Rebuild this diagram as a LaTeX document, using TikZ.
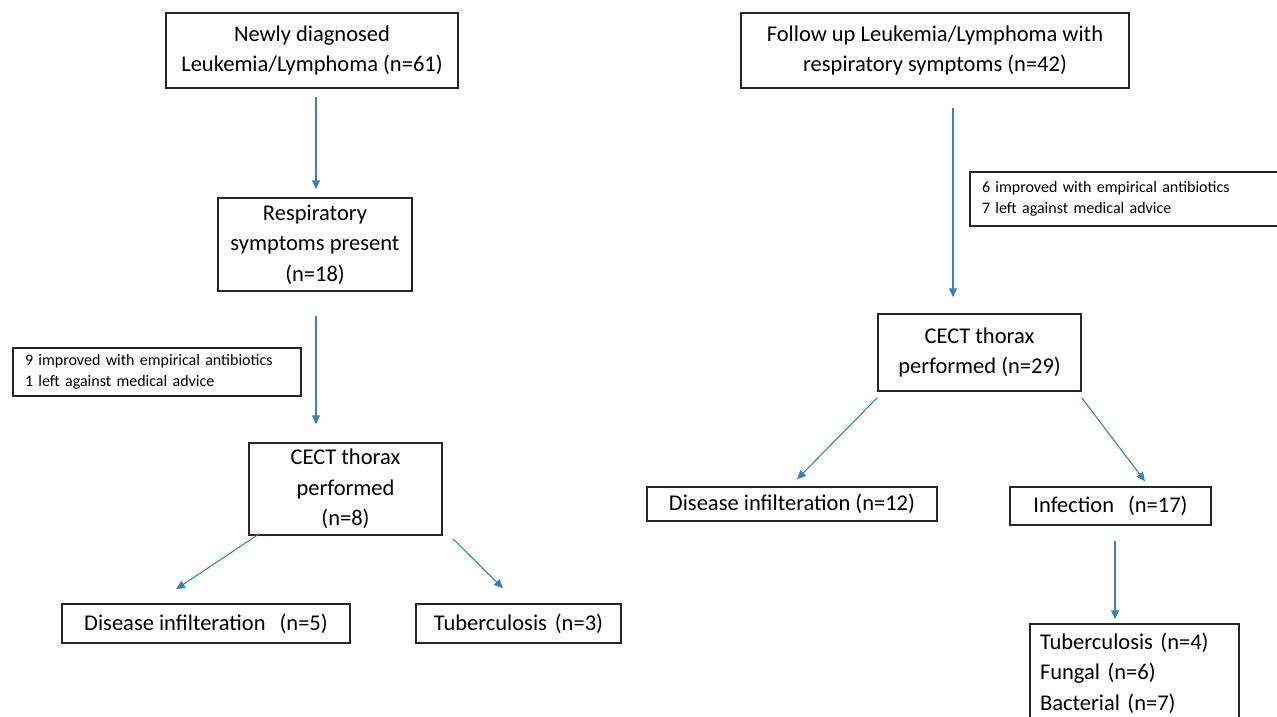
\documentclass[tikz,border=0pt]{standalone}
\usepackage{fontspec}
\setmainfont{Carlito}
\usepackage{tikz}
\usetikzlibrary{arrows.meta,positioning}
\usepackage{xcolor}
\definecolor{arrowblue}{RGB}{62,128,182}

\begin{document}
\begin{tikzpicture}[x=1pt, y=-1pt,
    box/.style={rectangle, draw=black!85, line width=1.4pt, inner sep=0pt, align=center,
        font=\fontsize{22.5}{30.5}\selectfont},
    note/.style={rectangle, draw=black!85, line width=1.3pt, inner ysep=0pt, inner xsep=12pt,
        align=left, font=\fontsize{16}{21.5}\selectfont},
    flow/.style={draw=arrowblue, line width=1.1pt, -{Triangle[length=9pt, width=8pt]}}]
    \useasboundingbox[fill=white] (0,0) rectangle (1277,717);

    % Left branch
    \node[box, minimum width=292pt, minimum height=75pt] (newL) at (312,50.5) {Newly diagnosed\\Leukemia/Lymphoma (n=61)};
    \node[box, minimum width=194pt, minimum height=93pt] (respL) at (315,244.5) {Respiratory\\symptoms present\\(n=18)};
    \node[note, text width=264pt, minimum height=48pt] (noteL) at (157,372) {9 improved with empirical antibiotics\\1 left against medical advice};
    \node[box, minimum width=193pt, minimum height=92pt] (cectL) at (345.5,489) {CECT thorax\\performed\\(n=8)};
    \node[box, minimum width=288pt, minimum height=39pt] (disL) at (206,623.5) {Disease infilteration\hspace{14pt}(n=5)};
    \node[box, minimum width=205pt, minimum height=39pt] (tbL) at (518.5,623.5) {Tuberculosis\hspace{8pt}(n=3)};

    % Right branch
    \node[box, minimum width=388pt, minimum height=75pt] (followR) at (935,50.5) {Follow up Leukemia/Lymphoma with\\respiratory symptoms (n=42)};
    \node[note, text width=296pt, minimum height=54pt] (noteR) at (1130,199) {6 improved with empirical antibiotics\\7 left against medical advice};
    \node[box, minimum width=203pt, minimum height=77pt] (cectR) at (979.5,352.5) {CECT thorax\\performed (n=29)};
    \node[box, minimum width=290pt, minimum height=34pt] (disR) at (792,504) {Disease infilteration (n=12)};
    \node[box, minimum width=201pt, minimum height=38pt] (infR) at (1110.5,506) {Infection\hspace{14pt}(n=17)};
    \node[box, minimum width=209pt, minimum height=98pt, align=left, text width=189pt] (listR) at (1134.5,673) {Tuberculosis (n=4)\\Fungal (n=6)\\Bacterial (n=7)};

    % Arrows
    \draw[flow, shorten <=8pt, shorten >=8pt] ([xshift=4pt]newL.south) -- ([xshift=1pt]respL.north);
    \draw[flow, shorten <=24pt, shorten >=18pt] ([xshift=1pt]respL.south) -- ([xshift=-29.5pt]cectL.north);
    \draw[flow] ([xshift=11pt, yshift=2pt]cectL.south west) -- ([xshift=-30pt, yshift=14pt]disL.north);
    \draw[flow] ([xshift=10pt, yshift=-3pt]cectL.south east) -- ([xshift=-15.5pt, yshift=15pt]tbL.north);
    \draw[flow, shorten <=19pt, shorten >=16pt] ([xshift=18pt]followR.south) -- ([xshift=-26.5pt]cectR.north);
    \draw[flow] ([yshift=-6pt]cectR.south west) -- ([xshift=5pt, yshift=7pt]disR.north);
    \draw[flow] ([yshift=-6pt]cectR.south east) -- ([xshift=34.5pt, yshift=5pt]infR.north);
    \draw[flow, shorten <=15pt, shorten >=4pt] ([xshift=4.5pt]infR.south) -- ([xshift=-19.5pt]listR.north);
\end{tikzpicture}
\end{document}
